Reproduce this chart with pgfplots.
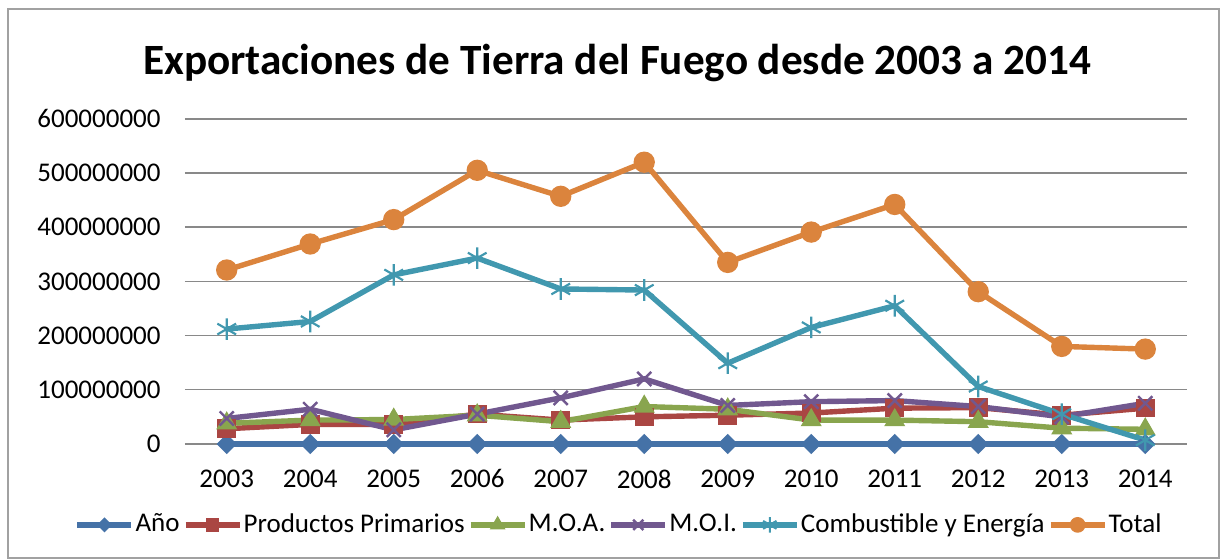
\documentclass[border=0pt]{standalone}
\usepackage{pgfplots}
\pgfplotsset{compat=1.18}
\usepackage{fontspec}
\setmainfont{Carlito}

% colores tipo Excel 2007
\definecolor{cAno}{HTML}{4572A7}
\definecolor{cPP}{HTML}{AA4643}
\definecolor{cMOA}{HTML}{89A54E}
\definecolor{cMOI}{HTML}{71588F}
\definecolor{cComb}{HTML}{4198AF}
\definecolor{cTot}{HTML}{DB843D}
\definecolor{cGrid}{HTML}{898989}

\begin{document}
\begin{tikzpicture}
% lienzo completo y marco del grafico
\path (-68.5pt,-42.6pt) rectangle (384.8pt,164.4pt);
\draw[color=cGrid!80, line width=0.6pt] (-65.6pt,-42.3pt) rectangle (383pt,161.1pt);

\node[font=\fontsize{16}{19}\selectfont\bfseries, anchor=base] at (160pt,136.9pt)
  {Exportaciones de Tierra del Fuego desde 2003 a 2014};

\begin{axis}[
  scale only axis,
  width=371.1pt, height=120.4pt,
  xmin=2002.5, xmax=2014.5,
  ymin=0, ymax=600000000,
  xtick={2003,2004,2005,2006,2007,2008,2009,2010,2011,2012,2013,2014},
  ytick={0,100000000,200000000,300000000,400000000,500000000,600000000},
  scaled y ticks=false,
  /pgf/number format/fixed,
  /pgf/number format/1000 sep={},
  /pgf/number format/assume math mode=true,
  xticklabel style={yshift=-6pt},
  yticklabel style={xshift=-5.5pt},
  tick label style={font=\fontsize{10}{12}\selectfont},
  major tick length=0pt,
  axis line style={draw=none},
  ymajorgrids,
  grid style={color=cGrid, line width=0.55pt},
  clip=false,
  every axis plot/.append style={line width=2pt},
  legend columns=6,
  legend style={at={(0.433,-0.249)}, anchor=center, draw=none, fill=none,
    font=\fontsize{10}{12}\selectfont, inner sep=0pt,
    nodes={inner xsep=0.5pt},
    /tikz/every even column/.append style={column sep=0.7pt}},
  legend cell align=left,
  legend image code/.code={%
    \draw[mark repeat=2,mark phase=2,every mark/.append style={scale=0.72}]
      plot coordinates {(0pt,0pt) (10pt,0pt) (20pt,0pt)};},
]
\addplot[color=cAno, mark=square*, mark size=2.4pt, mark options={rotate=45, line width=0.5pt}]
  coordinates {(2003,2003) (2004,2004) (2005,2005) (2006,2006) (2007,2007) (2008,2008)
  (2009,2009) (2010,2010) (2011,2011) (2012,2012) (2013,2013) (2014,2014)};
\addlegendentry{Año}

\addplot[color=cPP, mark=square*, mark size=3.2pt, mark options={line width=0.5pt}]
  coordinates {(2003,28000000) (2004,36000000) (2005,36000000) (2006,55000000)
  (2007,44000000) (2008,50000000) (2009,53000000) (2010,57000000) (2011,66000000)
  (2012,67000000) (2013,53000000) (2014,66000000)};
\addlegendentry{Productos Primarios}

\addplot[color=cMOA, mark=triangle*, mark size=4pt, mark options={line width=0.5pt}]
  coordinates {(2003,38000000) (2004,44000000) (2005,45000000) (2006,53000000)
  (2007,41000000) (2008,69000000) (2009,64000000) (2010,44000000) (2011,44000000)
  (2012,41000000) (2013,29000000) (2014,27000000)};
\addlegendentry{M.O.A.}

\addplot[color=cMOI, mark=x, mark size=3.7pt, mark options={line width=0.9pt}]
  coordinates {(2003,47000000) (2004,64000000) (2005,26000000) (2006,55000000)
  (2007,85000000) (2008,120000000) (2009,71000000) (2010,78000000) (2011,80000000)
  (2012,69000000) (2013,50000000) (2014,75000000)};
\addlegendentry{M.O.I.}

\addplot[color=cComb, mark=asterisk, mark size=4pt, mark options={line width=0.8pt}]
  coordinates {(2003,212000000) (2004,226000000) (2005,312000000) (2006,343000000)
  (2007,286000000) (2008,284000000) (2009,149000000) (2010,215000000) (2011,255000000)
  (2012,106000000) (2013,55000000) (2014,7000000)};
\addlegendentry{Combustible y Energía}

\addplot[color=cTot, mark=*, mark size=3.7pt, mark options={line width=0.5pt}]
  coordinates {(2003,321000000) (2004,369000000) (2005,414000000) (2006,505000000)
  (2007,457000000) (2008,520000000) (2009,335000000) (2010,391000000) (2011,442000000)
  (2012,281000000) (2013,180000000) (2014,175000000)};
\addlegendentry{Total}
\end{axis}
\end{tikzpicture}
\end{document}
